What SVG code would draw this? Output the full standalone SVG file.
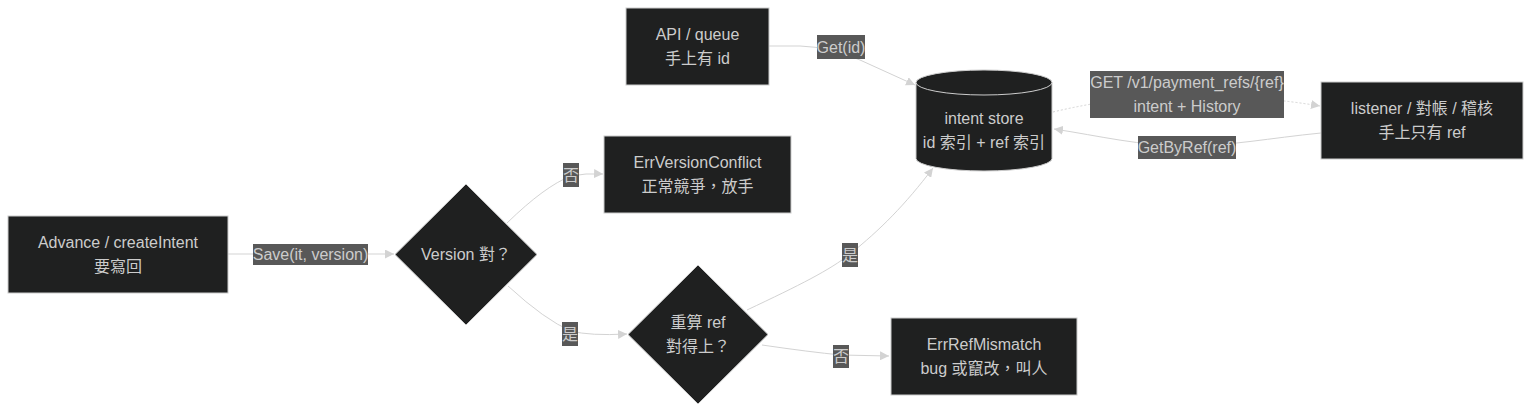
<svg xmlns="http://www.w3.org/2000/svg" width="1531" height="414" viewBox="0 0 1531 414" xml:lang="zh-TW" lang="zh-TW">
<style>
text{font-family:"Liberation Sans","Noto Sans CJK TC",sans-serif;font-size:16px;fill:#cccccc;text-anchor:middle;dominant-baseline:central}
.node{fill:#1f2020;stroke:#cccccc;stroke-width:1}
.edge{fill:none;stroke:#d3d3d3;stroke-width:1}
.dot{stroke-dasharray:2 2}
.lbl{fill:#585858}
</style>
<defs>
<marker id="arr" viewBox="0 0 10 10" refX="10" refY="5" markerWidth="9" markerHeight="9" markerUnits="userSpaceOnUse" orient="auto">
<path d="M0,0 L10,5 L0,10 z" fill="#d3d3d3"/>
</marker>
</defs>
<rect width="1531" height="414" fill="#ffffff"/>
<g id="connectors">
<path class="edge" d="M228,254 L394,254" marker-end="url(#arr)"/>
<path class="edge" d="M507,223 Q545,186 571,176 Q585,173 603,174" marker-end="url(#arr)"/>
<path class="edge" d="M508,286 Q545,320 571,331 Q590,336 627,334" marker-end="url(#arr)"/>
<path class="edge" d="M747,310 C800,285 830,270 850,254 C880,230 905,205 933,168" marker-end="url(#arr)"/>
<path class="edge" d="M762,345 Q810,352 841,355 L889,356" marker-end="url(#arr)"/>
<path class="edge" d="M769,46 L800,46 Q830,47 860,60 L915,85" marker-end="url(#arr)"/>
<path class="edge dot" d="M1053,112 Q1120,96 1187,95 Q1260,96 1320,106" marker-end="url(#arr)"/>
<path class="edge" d="M1321,133 C1270,138 1230,146 1187,146 C1140,146 1100,136 1054,129" marker-end="url(#arr)"/>
<rect class="lbl" x="253" y="244" width="115" height="21"/>
<text x="310.5" y="254.5">Save(it, version)</text>
<rect class="lbl" x="563" y="163" width="16" height="24"/>
<text x="571" y="175">否</text>
<rect class="lbl" x="562" y="322" width="16" height="24"/>
<text x="570" y="334">是</text>
<rect class="lbl" x="842" y="243" width="16" height="24"/>
<text x="850" y="255">是</text>
<rect class="lbl" x="833" y="345" width="16" height="23"/>
<text x="841" y="356.5">否</text>
<rect class="lbl" x="817" y="35" width="48" height="24"/>
<text x="841" y="47">Get(id)</text>
<rect class="lbl" x="1090" y="71" width="194" height="47"/>
<text x="1187" y="82">GET /v1/payment_refs/{ref}</text>
<text x="1187" y="106">intent + History</text>
<rect class="lbl" x="1138" y="136" width="98" height="23"/>
<text x="1187" y="147">GetByRef(ref)</text>
</g>
<g id="advance">
<rect class="node" x="8" y="216" width="220" height="77"/>
<text x="118" y="242">Advance / createIntent</text>
<text x="118" y="266">要寫回</text>
</g>
<g id="versionCheck">
<polygon class="node" points="466,184 537,254.5 466,325 395,254.5"/>
<text x="466" y="254.5">Version 對？</text>
</g>
<g id="errVersionConflict">
<rect class="node" x="604" y="136" width="187" height="77"/>
<text x="697.5" y="162">ErrVersionConflict</text>
<text x="697.5" y="186">正常競爭，放手</text>
</g>
<g id="refCheck">
<polygon class="node" points="698,265 768,334.5 698,404 628,334.5"/>
<text x="698" y="322">重算 ref</text>
<text x="698" y="346">對得上？</text>
</g>
<g id="errRefMismatch">
<rect class="node" x="891" y="318" width="186" height="77"/>
<text x="984" y="344">ErrRefMismatch</text>
<text x="984" y="368">bug 或竄改，叫人</text>
</g>
<g id="apiQueue">
<rect class="node" x="626" y="8" width="143" height="77"/>
<text x="697.5" y="34">API / queue</text>
<text x="697.5" y="58">手上有 id</text>
</g>
<g id="intentStore">
<path class="node" d="M916,82.5 a68,12.5 0 0 0 136,0 a68,12.5 0 0 0 -136,0 l0,76 a68,12.5 0 0 0 136,0 l0,-76"/>
<text x="984" y="118">intent store</text>
<text x="984" y="142">id 索引 + ref 索引</text>
</g>
<g id="listener">
<rect class="node" x="1321" y="82" width="202" height="77"/>
<text x="1422" y="108">listener / 對帳 / 稽核</text>
<text x="1422" y="132">手上只有 ref</text>
</g>
</svg>
